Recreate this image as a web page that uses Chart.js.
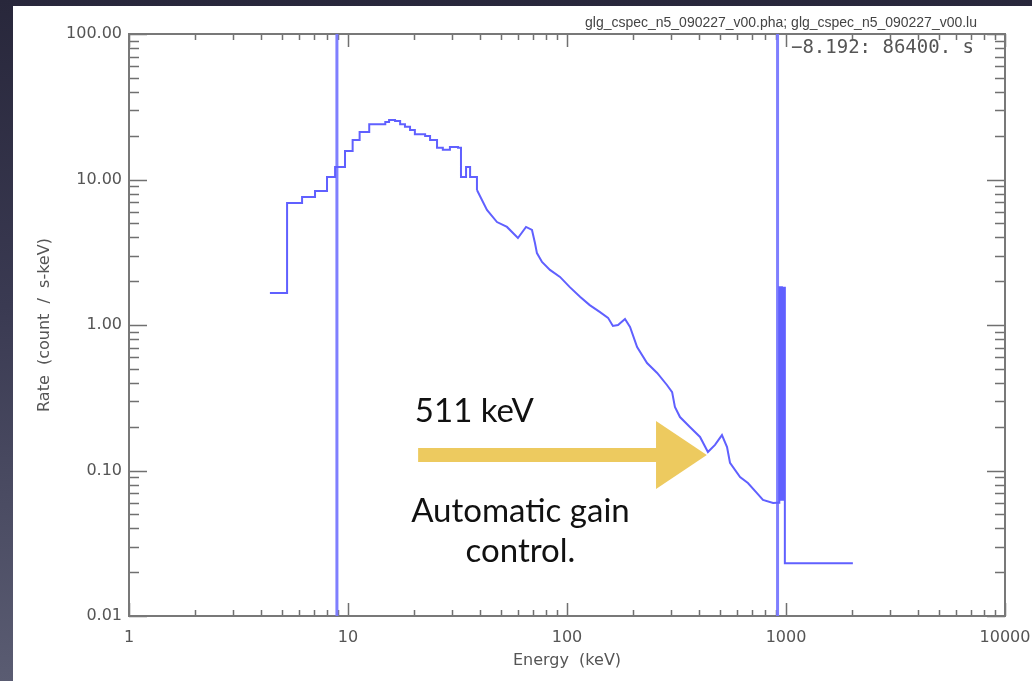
<!DOCTYPE html>
<html><head><meta charset="utf-8">
<script src="https://cdn.jsdelivr.net/npm/chart.js@4.4.1/dist/chart.umd.min.js"></script>
<style>
html,body{margin:0;padding:0;width:1032px;height:681px;overflow:hidden;}
body{background:linear-gradient(180deg,#28273b 0%,#3a3a52 45%,#5a5c72 100%);position:relative;}
#panel{position:absolute;left:13px;top:6px;right:0;bottom:0;background:#fff;}
canvas{position:absolute;left:0;top:0;}
</style></head><body><div id="panel"></div><canvas id="c" width="1032" height="681"></canvas>
<script>
// ---- data: energy in keV, rate in count / s-keV ----
// low-energy histogram bins (left edges, value held until next edge)
const lowBinEdges = [4.40,5.27,6.17,7.07,8.02,8.73,9.69,10.5,11.3,12.5,14.8,15.4,16.4,17.3,18.2,19.2,20.2,22.5,23.7,25.5,27.1,29.2,31.8,32.8,34.6,36.1,38.8];
const lowBinRates = [1.66,6.89,7.58,8.34,10.4,12.2,15.7,18.7,21.2,24.0,24.8,25.6,25.2,24.0,23.0,21.9,20.5,19.9,18.7,16.5,16.0,16.7,16.5,10.4,12.2,10.4,8.47];
// finely binned part of the spectrum, read as a trace
const traceEnergy = [38.8,43.1,47.9,53.2,59.7,65.0,69.2,71.4,72.9,76.9,83.6,92.9,103,115,127,141,154,162,171,184,194,209,232,258,286,302,311,328,364,405,440,474,510,538,555,617,670,737,785,873,910];
const traceRates  = [8.47,6.17,5.10,4.72,3.96,4.72,4.50,3.66,3.12,2.71,2.39,2.14,1.82,1.56,1.37,1.23,1.12,0.985,1.00,1.10,0.969,0.706,0.548,0.468,0.387,0.346,0.273,0.233,0.199,0.170,0.134,0.150,0.175,0.145,0.113,0.0902,0.0820,0.0700,0.0627,0.0598,0.0600];
// high-energy bins (overflow spike and last wide bin)
const highBinEdges = [910,932,942,948,958,964,974,978,988,2020];
const highBinRates = [0.0600,1.82,0.063,1.82,0.063,1.80,0.063,1.80,0.023,0.023];
const markerLinesKeV = [8.9, 915];
const xTickValues = [1,10,100,1000,10000];
const xTickLabels = ['1','10','100','1000','10000'];
const yTickValues = [0.01,0.1,1,10,100];
const yTickLabels = ['0.01','0.10','1.00','10.00','100.00'];
const fileTitle = 'glg_cspec_n5_090227_v00.pha; glg_cspec_n5_090227_v00.lu';
const timeLabel = '\u22128.192: 86400. s';
const noteTop = '511 keV';
const noteBottom = ['Automatic gain','control.'];

// annotation anchors (data coordinates)
const arrowTail = {e:20.9, r:0.128};
const arrowHeadBaseE = 255;
const arrowTipE = 435;
const noteTopAt = {e:20.2, r:0.215};
const noteBottomAt = [{e:61.3, r:0.0443},{e:61.3, r:0.0235}];

const toPts = (xs, ys) => xs.map((e,i)=>({x:e, y:ys[i]}));
const lineColor = 'rgb(96,96,255)';
const markerSets = markerLinesKeV.map(e=>({
  data:[{x:e,y:yTickValues[0]},{x:e,y:yTickValues[yTickValues.length-1]}],
  borderColor:'rgba(120,120,255,0.95)', borderWidth:3, pointRadius:0, fill:false
}));

const frame = {
  id:'frame',
  beforeDatasetsDraw(chart){
    const {ctx, chartArea:a, scales:{x,y}} = chart;
    ctx.save();
    ctx.strokeStyle='#707070'; ctx.lineWidth=1.5;
    const xs=[]; for(let d=0; d<4; d++) for(let m=1;m<10;m++) xs.push([m*Math.pow(10,d), m===1]);
    xs.push([10000,true]);
    ctx.beginPath();
    xs.forEach(([v,maj])=>{
      const px=Math.round(x.getPixelForValue(v))+0.5;
      const L = maj?13:6;
      ctx.moveTo(px,a.bottom); ctx.lineTo(px,a.bottom-L);
      ctx.moveTo(px,a.top); ctx.lineTo(px,a.top+L);
    });
    const ys=[]; for(let d=-2; d<2; d++) for(let m=1;m<10;m++) ys.push([m*Math.pow(10,d), m===1]);
    ys.push([100,true]);
    ys.forEach(([v,maj])=>{
      const py=Math.round(y.getPixelForValue(v))+0.5;
      const L = maj?18:10;
      ctx.moveTo(a.left,py); ctx.lineTo(a.left+L,py);
      ctx.moveTo(a.right,py); ctx.lineTo(a.right-L,py);
    });
    ctx.stroke();
    ctx.strokeStyle='#787878'; ctx.lineWidth=2;
    ctx.strokeRect(a.left,a.top,a.right-a.left,a.bottom-a.top);
    ctx.restore();
  }
};

const notes = {
  id:'notes',
  afterDatasetsDraw(chart){
    const {ctx, chartArea:a, scales:{x,y}} = chart;
    const X=v=>x.getPixelForValue(v), Y=v=>y.getPixelForValue(v);
    ctx.save();
    const x0=X(arrowTail.e), yc=Y(arrowTail.r), xb=X(arrowHeadBaseE), xt=X(arrowTipE);
    ctx.fillStyle='rgba(236,199,86,0.95)';
    ctx.beginPath();
    ctx.moveTo(x0,yc-7); ctx.lineTo(xb,yc-7); ctx.lineTo(xb,yc-34); ctx.lineTo(xt,yc);
    ctx.lineTo(xb,yc+34); ctx.lineTo(xb,yc+7); ctx.lineTo(x0,yc+7); ctx.closePath(); ctx.fill();
    ctx.fillStyle='#111'; ctx.font='33px Lato'; ctx.textBaseline='alphabetic';
    ctx.textAlign='left'; ctx.fillText(noteTop, X(noteTopAt.e), Y(noteTopAt.r));
    ctx.textAlign='center';
    noteBottom.forEach((t,i)=>ctx.fillText(t, X(noteBottomAt[i].e), Y(noteBottomAt[i].r)));
    ctx.fillStyle='#444'; ctx.textAlign='right'; ctx.textBaseline='middle';
    ctx.font='14px "Liberation Sans"';
    ctx.fillText(fileTitle, 977, a.top-11, 392);
    ctx.fillStyle='#555'; ctx.font='19px "DejaVu Sans Mono"';
    ctx.fillText(timeLabel, 974, a.top+14);
    ctx.restore();
  }
};

const tickFont = {family:'DejaVu Sans', size:16};
new Chart(document.getElementById('c'), {
  type:'line',
  data:{datasets:[
    {data:toPts(lowBinEdges, lowBinRates), stepped:'before', borderColor:lineColor, borderWidth:2, pointRadius:0, fill:false},
    {data:toPts(traceEnergy, traceRates), borderColor:lineColor, borderWidth:2, pointRadius:0, fill:false, tension:0},
    {data:toPts(highBinEdges, highBinRates), stepped:'before', borderColor:lineColor, borderWidth:2, pointRadius:0, fill:false},
    ...markerSets
  ]},
  options:{
    responsive:false, animation:false, devicePixelRatio:1,
    layout:{padding:{left:0, top:34, right:27, bottom:0}},
    plugins:{legend:{display:false}, tooltip:{enabled:false}},
    scales:{
      x:{type:'logarithmic', min:1, max:10000,
        grid:{display:false, drawTicks:false}, border:{display:false},
        afterBuildTicks:s=>{s.ticks=xTickValues.map(v=>({value:v}));},
        afterFit:s=>{s.height=65; s.paddingLeft=0; s.paddingRight=0;},
        ticks:{autoSkip:false, maxRotation:0, padding:12, color:'#555', font:tickFont,
          callback:v=>{const i=xTickValues.indexOf(v); return i>=0?xTickLabels[i]:'';}},
        title:{display:true, text:'Energy  (keV)', color:'#555', font:tickFont, padding:{top:0,bottom:11}}
      },
      y:{type:'logarithmic', min:0.01, max:100,
        grid:{display:false, drawTicks:false}, border:{display:false},
        afterBuildTicks:s=>{s.ticks=yTickValues.map(v=>({value:v}));},
        afterFit:s=>{s.width=129; s.paddingTop=0; s.paddingBottom=0;},
        ticks:{autoSkip:false, padding:7, color:'#555', font:tickFont,
          callback:v=>{const i=yTickValues.indexOf(v); return i>=0?yTickLabels[i]:'';}},
        title:{display:true, text:'Rate  (count  /  s-keV)', color:'#555', font:tickFont, padding:{top:35,bottom:0}}
      }
    }
  },
  plugins:[frame, notes]
});
</script></body></html>
